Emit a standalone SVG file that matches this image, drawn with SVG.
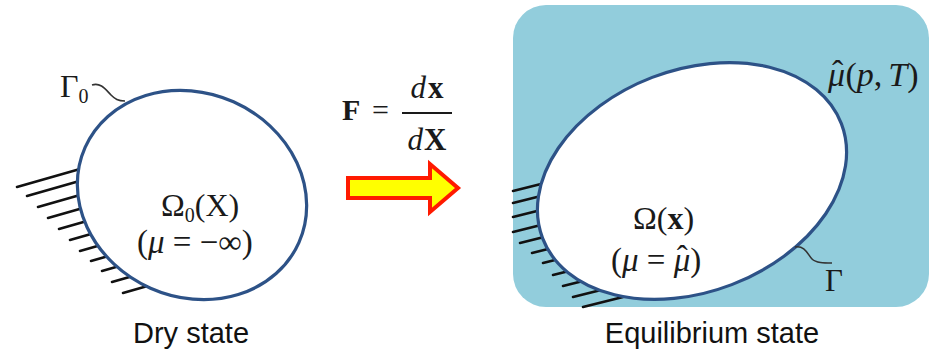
<svg xmlns="http://www.w3.org/2000/svg" width="930" height="349" viewBox="0 0 930 349">
<style>
.m{font-family:"Liberation Serif","Times New Roman",serif;fill:#1a1a1a}
.i{font-style:italic}
.b{font-weight:bold}
.s{font-family:"Liberation Sans",Arial,sans-serif;fill:#111;font-size:29px}
.h{stroke:#111;stroke-width:2.6;stroke-linecap:round}
.body{fill:#fff;stroke:#2d5287;stroke-width:3.2}
.lead{fill:none;stroke:#333;stroke-width:1.6}
</style>
<rect width="930" height="349" fill="#fff"/>
<g id="dry">
  <g id="dry-hatch">
    <line class="h" x1="17" y1="187" x2="87" y2="167"/>
    <line class="h" x1="27" y1="196" x2="97" y2="176"/>
    <line class="h" x1="38" y1="207" x2="108" y2="187"/>
    <line class="h" x1="48" y1="218" x2="118" y2="198"/>
    <line class="h" x1="59" y1="229" x2="129" y2="209"/>
    <line class="h" x1="70" y1="240" x2="140" y2="220"/>
    <line class="h" x1="80" y1="251" x2="150" y2="231"/>
    <line class="h" x1="91" y1="261" x2="161" y2="241"/>
    <line class="h" x1="102" y1="271" x2="172" y2="251"/>
    <line class="h" x1="112" y1="282" x2="182" y2="262"/>
    <line class="h" x1="123" y1="293" x2="193" y2="273"/>
  </g>
  <ellipse class="body" cx="192" cy="195" rx="117" ry="102" transform="rotate(24 192 195)"/>
  <path class="lead" d="M92,85 C101,82 106,90 111,95 C115,99 118,101 125,101"/>
  <text class="m" x="60" y="97" font-size="32">Γ<tspan font-size="20" dy="6">0</tspan></text>
  <text class="m" x="161" y="216" font-size="32">Ω<tspan font-size="20" dy="6">0</tspan><tspan dy="-6">(X)</tspan></text>
  <text class="m" x="137" y="253" font-size="33">(<tspan class="i">μ</tspan> = −∞)</text>
  <text class="s" x="191" y="343" text-anchor="middle">Dry state</text>
</g>
<g id="map">
  <text class="m b" x="342" y="120" font-size="30">F</text>
  <text class="m" x="372" y="120" font-size="30">=</text>
  <line x1="402" y1="113" x2="452" y2="113" stroke="#1a1a1a" stroke-width="1.8"/>
  <text class="m" x="427" y="98" font-size="31" text-anchor="middle"><tspan class="i">d</tspan><tspan class="b" dx="2">x</tspan></text>
  <text class="m" x="427" y="150" font-size="31" text-anchor="middle"><tspan class="i">d</tspan><tspan class="b" dx="1">X</tspan></text>
</g>
<g id="connectors">
  <polygon points="348,178 430,178 430,164 458,188 430,212 430,198 348,198" fill="#ffff00" stroke="#ff1a00" stroke-width="4" stroke-linejoin="miter"/>
</g>
<g id="equilibrium">
  <rect x="513" y="5" width="416" height="302" rx="33" ry="33" fill="#92cddc"/>
  <g id="eq-hatch">
    <line class="h" x1="513" y1="191" x2="553" y2="181"/>
    <line class="h" x1="513" y1="203" x2="553" y2="193"/>
    <line class="h" x1="513" y1="217" x2="553" y2="207"/>
    <line class="h" x1="513" y1="232" x2="553" y2="222"/>
    <line class="h" x1="520" y1="243" x2="560" y2="233"/>
    <line class="h" x1="532" y1="253" x2="572" y2="243"/>
    <line class="h" x1="543" y1="263" x2="583" y2="253"/>
    <line class="h" x1="553" y1="275" x2="593" y2="265"/>
    <line class="h" x1="563" y1="286" x2="603" y2="276"/>
    <line class="h" x1="573" y1="297" x2="613" y2="287"/>
    <line class="h" x1="583" y1="307" x2="623" y2="297"/>
  </g>
  <ellipse class="body" cx="692" cy="181" rx="160" ry="111" transform="rotate(-21 692 181)"/>
  <path class="lead" d="M795,247 C805,245 808,255 812,259 C816,263 824,263 832,263"/>
  <text class="m" x="825" y="291" font-size="31">Γ</text>
  <text class="m" x="828" y="86" font-size="34"><tspan class="i">μ</tspan><tspan dx="-13" dy="-2">ˆ</tspan><tspan dx="2" dy="2">(</tspan><tspan class="i">p</tspan>,<tspan class="i" dx="6">T</tspan>)</text>
  <text class="m" x="633" y="229" font-size="32">Ω(<tspan class="b">x</tspan>)</text>
  <text class="m" x="611" y="271" font-size="33">(<tspan class="i">μ</tspan> = <tspan class="i">μ</tspan><tspan dx="-13.5" dy="-2">ˆ</tspan><tspan dx="2.5" dy="2">)</tspan></text>
  <text class="s" x="712" y="343" text-anchor="middle">Equilibrium state</text>
</g>
</svg>
